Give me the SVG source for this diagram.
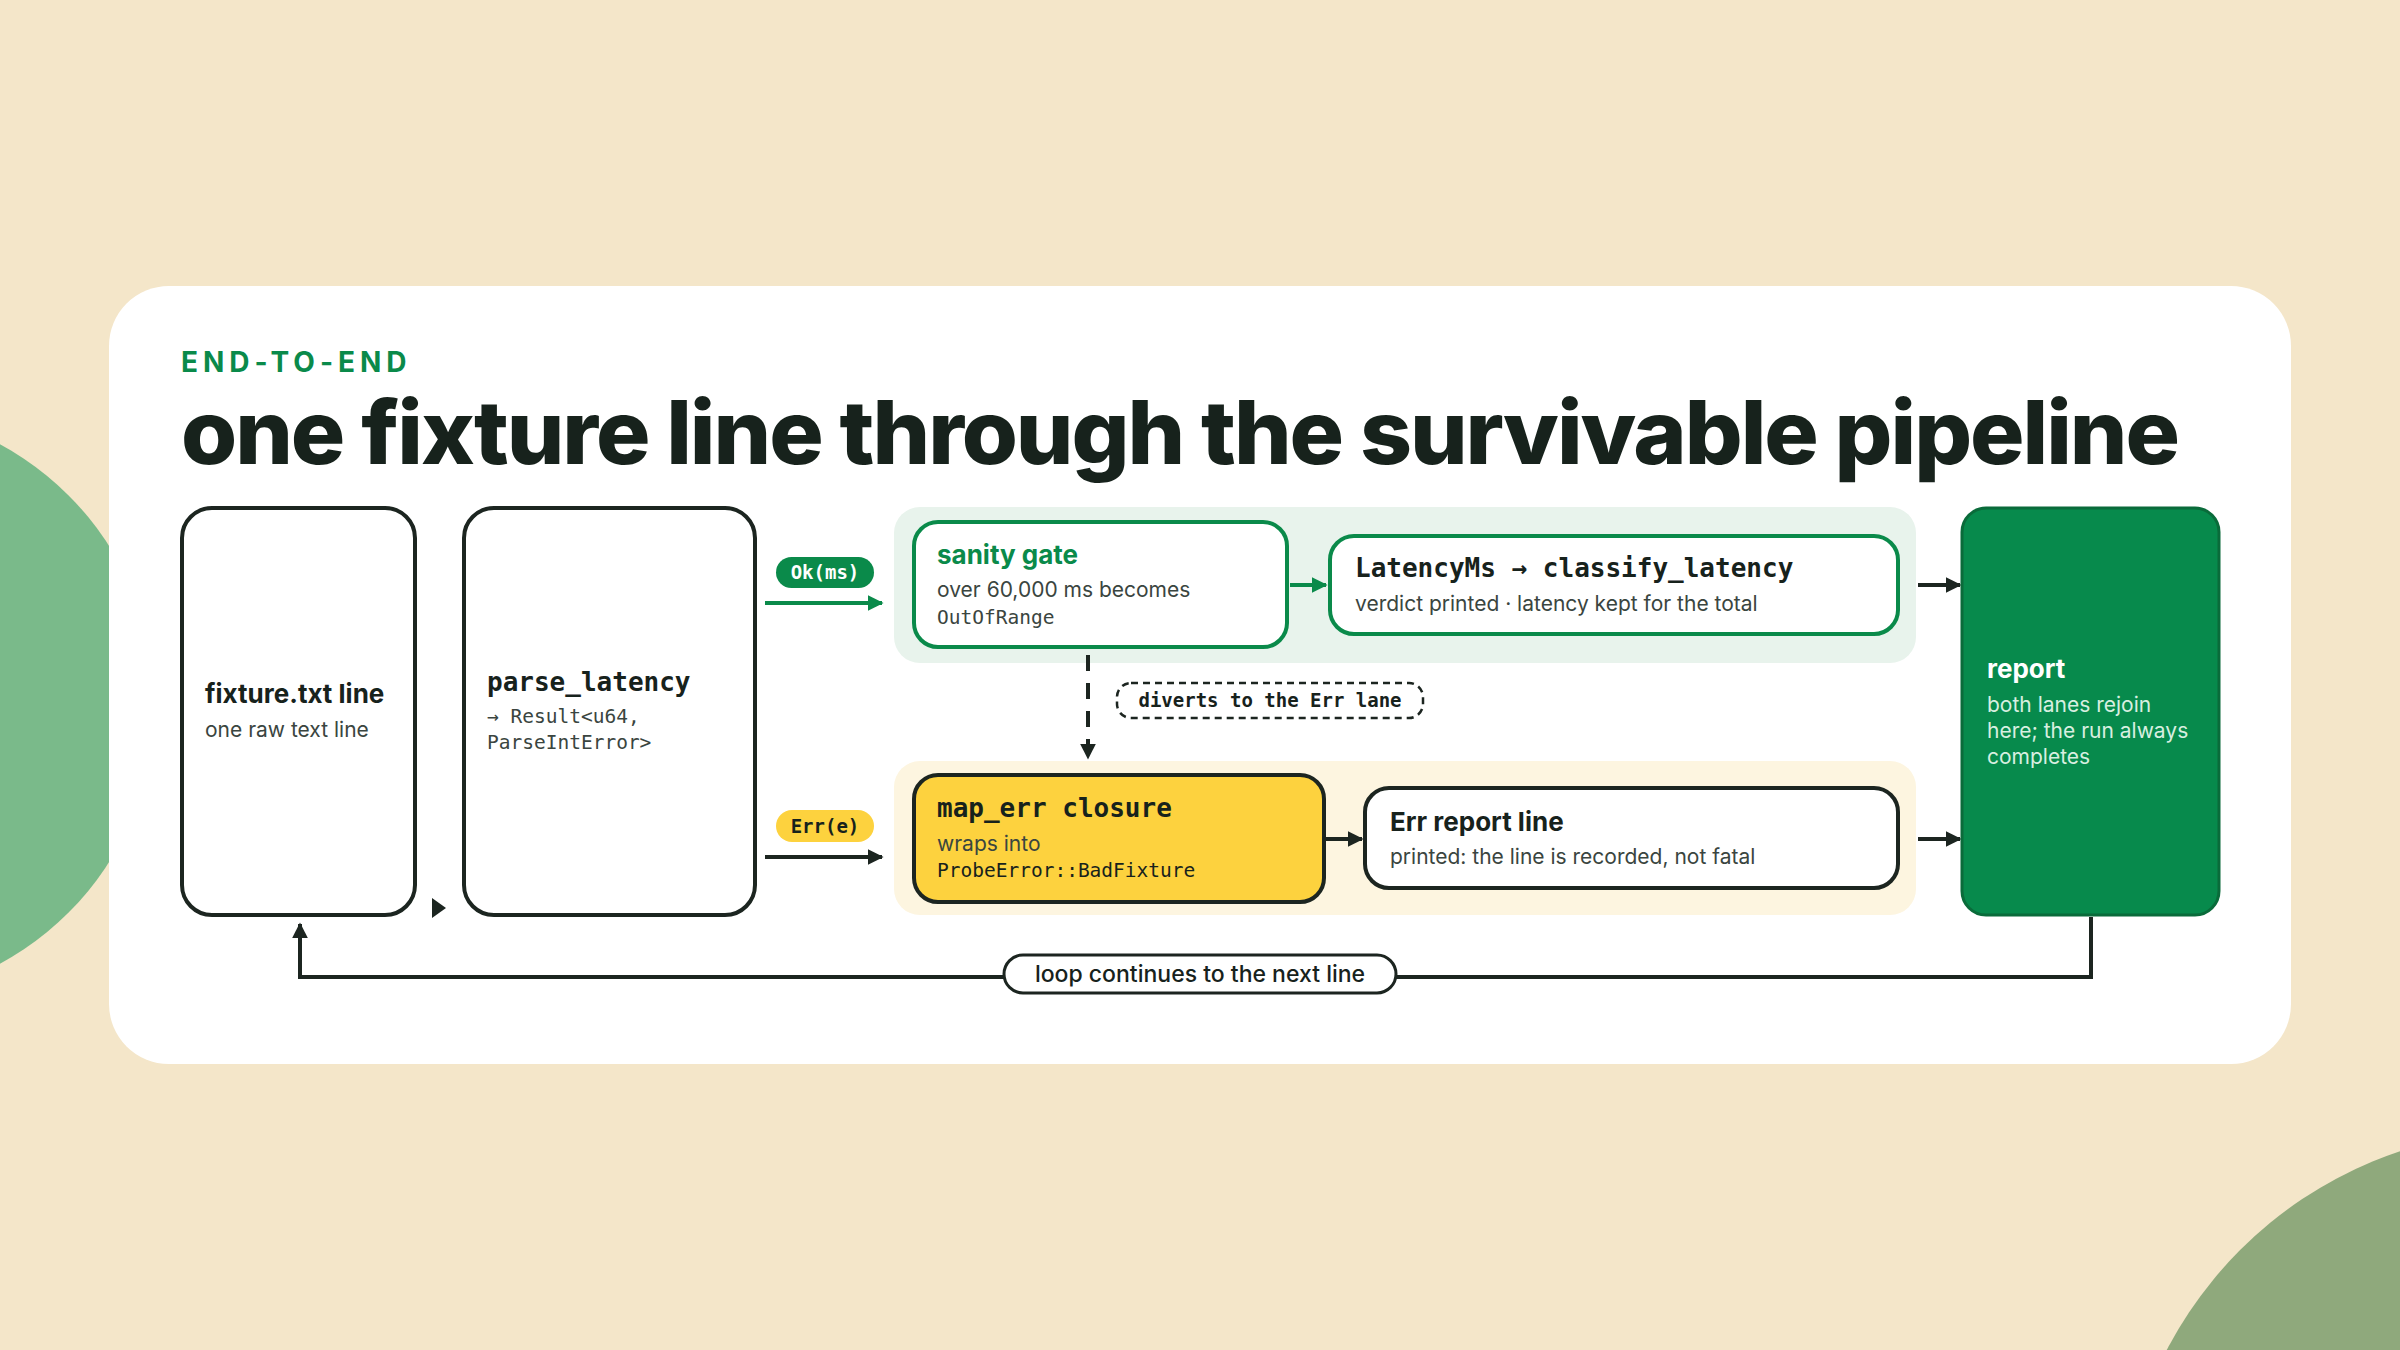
<svg xmlns="http://www.w3.org/2000/svg" width="2400" height="1350" viewBox="0 0 2400 1350">
<defs>
<style>
.sans{font-family:Inter,"Liberation Sans",sans-serif}
.mono{font-family:"DejaVu Sans Mono","Liberation Mono",monospace}
.ttl{font-size:26px;font-weight:700;fill:#17221c}
.sub{font-size:21px;fill:#3a4540}
.msub{font-size:19.5px;fill:#3a4540}
.box{fill:#fff;stroke:#1c2520;stroke-width:4}
.gbox{fill:#fff;stroke:#0a8a4a;stroke-width:4}
.pill{font-size:19px;font-weight:700}
.ln{stroke:#1c2520;stroke-width:4;fill:none}
</style>
<marker id="ah" viewBox="0 0 10 10" refX="9" refY="5" markerWidth="4" markerHeight="4" orient="auto" markerUnits="strokeWidth"><path d="M0,0L10,5L0,10z" fill="#1c2520"/></marker>
<marker id="ahg" viewBox="0 0 10 10" refX="9" refY="5" markerWidth="4" markerHeight="4" orient="auto" markerUnits="strokeWidth"><path d="M0,0L10,5L0,10z" fill="#0a8a4a"/></marker>
</defs>
<rect width="2400" height="1350" fill="#f4e6c9"/>
<circle cx="-140" cy="704" r="295" fill="#7aba8a"/>
<circle cx="2530" cy="1540" r="410" fill="#8fa97c"/>
<rect x="109" y="286" width="2182" height="778" rx="60" fill="#fff"/>
<text x="181" y="372" class="sans" font-size="28" font-weight="700" letter-spacing="5" fill="#0a8a4a">END-TO-END</text>
<text x="181" y="464" class="sans" font-size="88" font-weight="800" fill="#17221c" textLength="1997" lengthAdjust="spacingAndGlyphs" letter-spacing="-2">one fixture line through the survivable pipeline</text>

<rect x="894" y="507" width="1022" height="156" rx="26" fill="#e8f3ec"/>
<rect x="894" y="761" width="1022" height="154" rx="26" fill="#fdf5e0"/>

<g id="connectors">
<path class="ln" d="M765,603H882" stroke="#0a8a4a" style="stroke:#0a8a4a" marker-end="url(#ahg)"/>
<path class="ln" d="M765,857H882" marker-end="url(#ah)"/>
<path class="ln" d="M1290,585H1326" style="stroke:#0a8a4a" marker-end="url(#ahg)"/>
<path class="ln" d="M1326,839H1362" marker-end="url(#ah)"/>
<path class="ln" d="M1088,655V758" stroke-dasharray="16,12" marker-end="url(#ah)"/>
<path class="ln" d="M1918,585H1960" marker-end="url(#ah)"/>
<path class="ln" d="M1918,839H1960" marker-end="url(#ah)"/>
<path class="ln" d="M2091,917V977H300V924" marker-end="url(#ah)"/>
<path d="M432,898L446,908L432,918z" fill="#1c2520"/>
<g id="ok-label"><rect x="776" y="557" width="98" height="31" rx="15.5" fill="#0a8a4a"/><text x="825" y="579" text-anchor="middle" class="mono pill" fill="#fff">Ok(ms)</text></g>
<g id="err-label"><rect x="776" y="810" width="98" height="32" rx="16" fill="#fdd23e"/><text x="825" y="833" text-anchor="middle" class="mono pill" fill="#17221c">Err(e)</text></g>
<g id="divert-label"><rect x="1117" y="683" width="306" height="35" rx="14" fill="#fff" stroke="#1c2520" stroke-width="2.5" stroke-dasharray="7,5"/><text x="1270" y="707" text-anchor="middle" class="mono pill" fill="#17221c">diverts to the Err lane</text></g>
<g id="loop-label"><rect x="1004" y="955" width="392" height="38" rx="19" fill="#fff" stroke="#1c2520" stroke-width="3"/><text x="1200" y="982" text-anchor="middle" class="sans" font-size="23" font-weight="500" fill="#17221c">loop continues to the next line</text></g>
</g>

<g id="fixture"><rect class="box" x="182" y="508" width="233" height="407" rx="30"/>
<text x="205" y="703" class="sans ttl">fixture.txt line</text><text x="205" y="737" class="sans sub">one raw text line</text></g>
<g id="parse"><rect class="box" x="464" y="508" width="291" height="407" rx="30"/>
<text x="487" y="691" class="mono ttl">parse_latency</text><text x="487" y="723" class="mono msub">→ Result&lt;u64,</text><text x="487" y="749" class="mono msub">ParseIntError&gt;</text></g>
<g id="sanity"><rect class="gbox" x="914" y="522" width="373" height="125" rx="24"/>
<text x="937" y="564" class="sans ttl" fill="#0a8a4a" style="fill:#0a8a4a">sanity gate</text><text x="937" y="597" class="sans sub">over 60,000 ms becomes</text><text x="937" y="624" class="mono msub">OutOfRange</text></g>
<g id="classify"><rect class="gbox" x="1330" y="536" width="568" height="98" rx="24"/>
<text x="1355" y="577" class="mono ttl">LatencyMs → classify_latency</text><text x="1355" y="611" class="sans sub">verdict printed · latency kept for the total</text></g>
<g id="maperr"><rect class="box" x="914" y="775" width="410" height="127" rx="24" fill="#fdd23e" style="fill:#fdd23e"/>
<text x="937" y="817" class="mono ttl">map_err closure</text><text x="937" y="851" class="sans sub">wraps into</text><text x="937" y="877" class="mono msub" style="fill:#17221c">ProbeError::BadFixture</text></g>
<g id="errreport"><rect class="box" x="1365" y="788" width="533" height="100" rx="24"/>
<text x="1390" y="831" class="sans ttl">Err report line</text><text x="1390" y="864" class="sans sub">printed: the line is recorded, not fatal</text></g>
<g id="report"><rect x="1962" y="508" width="257" height="407" rx="24" fill="#078a4c" stroke="#0a6b3a" stroke-width="3"/>
<text x="1987" y="678" class="sans ttl" style="fill:#fff">report</text>
<text x="1987" y="712" class="sans sub" style="fill:#d8efe0">both lanes rejoin</text><text x="1987" y="738" class="sans sub" style="fill:#d8efe0">here; the run always</text><text x="1987" y="764" class="sans sub" style="fill:#d8efe0">completes</text></g>
</svg>
